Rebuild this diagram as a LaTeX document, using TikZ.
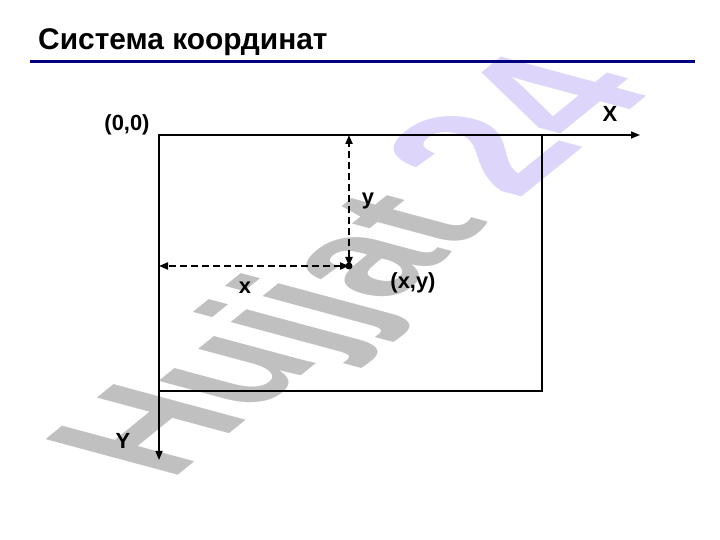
\documentclass[tikz,border=0pt]{standalone}
\usepackage{fontspec}
\setmainfont{Liberation Sans}
\usetikzlibrary{arrows.meta}
\definecolor{navyrule}{RGB}{0,0,128}
\definecolor{markgrey}{RGB}{192,192,192}
\definecolor{marklilac}{RGB}{222,214,250}
\tikzset{
  axis/.style={line width=1.5bp,->},
  proj/.style={line width=2bp,dash pattern=on 7bp off 4bp,<->},
  lbl/.style={font=\fontsize{22}{26}\selectfont\bfseries,inner sep=0pt},
}
\begin{document}
\begin{tikzpicture}[x=1bp,y=1bp,>={Triangle[length=9bp,width=7bp]}]
    \useasboundingbox (0,0) rectangle (720,540);

    % the watermark behind everything
    \begin{scope}[cm={1.16,0.94,-1.93,0.52,(170bp,58bp)}]
        \node[transform shape,anchor=base west,inner sep=0pt,
              font=\fontsize{100}{120}\selectfont\bfseries] (mark) at (0,0)
              {\textcolor{markgrey}{Hujjat} \hspace{-0.05em}\textcolor{marklilac}{\fontsize{110}{130}\selectfont 24}};
    \end{scope}

    % the title and the rule under it
    \node[anchor=base west,inner sep=0pt,font=\fontsize{30}{35}\selectfont\bfseries]
        (title) at (38,490) {Система координат};
    \draw[navyrule,line width=3bp] (30,478) -- (695,478);

    % the points (here I just create coordinates to use them later on)
    \coordinate (O) at (159,405);
    \coordinate (C) at (542,149);
    \coordinate (xend) at (640,405);
    \coordinate (yend) at (159,80);
    \coordinate (P) at (349,274);
    \coordinate (Px) at (P |- O);
    \coordinate (Py) at (P -| O);

    % the screen and the axes
    \draw[line width=2bp] (O) rectangle (C);
    \draw[axis] (O) -- (xend);
    \draw[axis] (O) -- (yend);

    % the projections of the point
    \draw[proj] (P) -- (Px);
    \draw[proj] (P) -- (Py);
    \fill (P) circle (3.5bp);

    % the texts
    \node[lbl] (lo) at (127,415) {(0,0)};
    \node[lbl] (lx) at (610,426) {X};
    \node[lbl] (ly) at (123,99) {Y};
    \node[lbl] (ldy) at (368,339) {y};
    \node[lbl] (ldx) at (245,252) {x};
    \node[lbl] (lp) at (413,257) {(x,y)};
\end{tikzpicture}
\end{document}
